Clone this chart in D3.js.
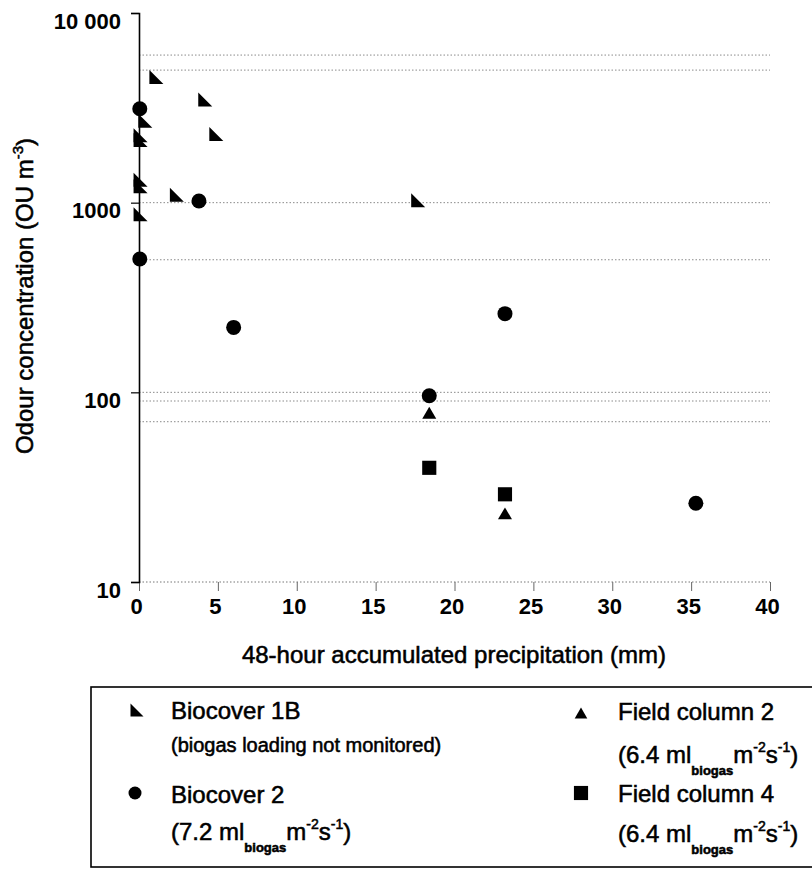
<!DOCTYPE html>
<html>
<head>
<meta charset="utf-8">
<script src="https://cdn.jsdelivr.net/npm/d3@7"></script>
<style>
  html, body { margin: 0; padding: 0; background: #fff; }
  svg { display: block; font-family: "Liberation Sans", Arial, sans-serif; }
  .heavy { stroke: #000; stroke-width: 0.55px; }
</style>
</head>
<body>
<svg id="chart" width="812" height="869"></svg>
<script>
// Odour concentration vs 48-hour accumulated precipitation
const xTicks = [0, 5, 10, 15, 20, 25, 30, 35, 40];
const yTicks = [10, 100, 1000, 10000];
const yTickLabels = ["10", "100", "1000", "10 000"];
const refLevels = [6000, 5000, 1000, 500, 100, 90, 70];

// Biocover 1B (biogas loading not monitored)
const bio1B_x = [1.1, 4.2, 0.4, 0.1, 0.1, 4.9, 0.1, 0.1, 2.4, 0.1, 17.7];
const bio1B_y = [4600, 3500, 2700, 2270, 2140, 2300, 1320, 1220, 1100, 870, 1030];
// Biocover 2
const bio2_x = [0.05, 3.8, 0.05, 6.0, 23.2, 18.4, 35.3];
const bio2_y = [3130, 1020, 505, 220, 260, 96, 26];
// Field column 2
const fc2_x = [18.4, 23.2];
const fc2_y = [78, 23];
// Field column 4
const fc4_x = [18.4, 23.2];
const fc4_y = [40, 29];

const svg = d3.select("#chart");
const x = d3.scaleLinear().domain([0, 40]).range([139, 770]);
const y = d3.scaleLog().domain([10, 10000]).range([582, 13]);

// Symbol shapes
const rightTriangle = { draw(c, size) { const h = Math.sqrt(size) / 2;
  c.moveTo(-h, -h); c.lineTo(-h, h); c.lineTo(h, h); c.closePath(); } };
const upTriangle = { draw(c, size) { const h = Math.sqrt(size) / 2;
  c.moveTo(0, -h * 0.85); c.lineTo(h, h * 0.85); c.lineTo(-h, h * 0.85); c.closePath(); } };
const square = { draw(c, size) { const h = Math.sqrt(size) / 2;
  c.rect(-h, -h, 2 * h, 2 * h); } };
const circle = { draw(c, size) { const r = Math.sqrt(size) / 2;
  c.moveTo(r, 0); c.arc(0, 0, r, 0, 2 * Math.PI); } };

// Dotted reference lines
svg.append("g").selectAll("line").data(refLevels).join("line")
  .attr("x1", x(0)).attr("x2", x(40))
  .attr("y1", d => y(d)).attr("y2", d => y(d))
  .attr("stroke", "#8a8a8a").attr("stroke-width", 1)
  .attr("stroke-dasharray", "1.5 2");

// X axis
const xAxis = svg.append("g").attr("transform", `translate(0,${y(10)})`)
  .call(d3.axisBottom(x).tickValues(xTicks).tickSize(9).tickPadding(7).tickFormat(d3.format("d")));
xAxis.select(".domain").remove();
xAxis.selectAll(".tick line").attr("stroke", "#666").attr("stroke-width", 1);
xAxis.selectAll(".tick text").attr("font-size", 22).attr("font-weight", "bold")
  .attr("fill", "#000").attr("dx", -3).attr("font-family", "Liberation Sans, Arial, sans-serif");
svg.append("line").attr("x1", x(0)).attr("x2", x(40)).attr("y1", y(10)).attr("y2", y(10))
  .attr("stroke", "#777").attr("stroke-width", 1).attr("stroke-dasharray", "1.5 2");

// Y axis
const yAxis = svg.append("g").attr("transform", `translate(${x(0)},0)`)
  .call(d3.axisLeft(y).tickValues(yTicks).tickSize(8).tickPadding(10)
    .tickFormat((d, i) => yTickLabels[i]));
yAxis.select(".domain").attr("stroke", "#000").attr("stroke-width", 1.6);
yAxis.selectAll(".tick line").attr("stroke", "#000").attr("stroke-width", 1.2);
yAxis.selectAll(".tick text").attr("font-size", 22).attr("font-weight", "bold")
  .attr("fill", "#000").attr("dy", 15).attr("font-family", "Liberation Sans, Arial, sans-serif");

// Axis titles
svg.append("text").attr("class", "heavy").attr("x", 454).attr("y", 663).attr("text-anchor", "middle")
  .attr("font-size", 24).text("48-hour accumulated precipitation (mm)");

const yt = svg.append("text").attr("class", "heavy").attr("transform", "translate(33,296) rotate(-90)")
  .attr("text-anchor", "middle").attr("font-size", 24);
yt.append("tspan").text("Odour concentration (OU m");
yt.append("tspan").attr("font-size", 15).attr("dy", -10).text("-3");
yt.append("tspan").attr("dy", 10).text(")");

// Data marks
function drawSeries(xs, ys, type, size) {
  const sym = d3.symbol().type(type).size(size);
  svg.append("g").selectAll("path").data(xs.map((v, i) => [v, ys[i]])).join("path")
    .attr("transform", d => `translate(${x(d[0])},${y(d[1])})`)
    .attr("d", sym).attr("fill", "#000");
}
drawSeries(bio1B_x, bio1B_y, rightTriangle, 196);
drawSeries(bio2_x, bio2_y, circle, 225);
drawSeries(fc2_x, fc2_y, upTriangle, 196);
drawSeries(fc4_x, fc4_y, square, 200);

// Legend
const lg = svg.append("g");
lg.append("rect").attr("x", 91).attr("y", 687).attr("width", 760).attr("height", 180)
  .attr("fill", "none").attr("stroke", "#000").attr("stroke-width", 1.6);

function legendSymbol(cx, cy, type, size) {
  lg.append("path").attr("transform", `translate(${cx},${cy})`)
    .attr("d", d3.symbol().type(type).size(size)).attr("fill", "#000");
}
legendSymbol(137, 710, rightTriangle, 169);
legendSymbol(135, 793, circle, 169);
legendSymbol(581, 713, upTriangle, 160);
legendSymbol(581, 793, square, 200);

function legendText(tx, ty, txt, size) {
  lg.append("text").attr("class", "heavy").attr("x", tx).attr("y", ty).attr("font-size", size).text(txt);
}
legendText(171, 719, "Biocover 1B", 24);
legendText(171, 752, "(biogas loading not monitored)", 20);
legendText(171, 803, "Biocover 2", 24);
legendText(618, 720, "Field column 2", 24);
legendText(618, 802, "Field column 4", 24);

function rateText(tx, ty, rate) {
  const t = lg.append("text").attr("class", "heavy").attr("x", tx).attr("y", ty).attr("font-size", 24);
  t.append("tspan").text(`(${rate} ml`);
  t.append("tspan").attr("font-size", 13).attr("font-weight", "bold").attr("dy", 12).text("biogas");
  t.append("tspan").attr("dy", -12).text("m");
  t.append("tspan").attr("font-size", 14).attr("dy", -11).text("-2");
  t.append("tspan").attr("dy", 11).text("s");
  t.append("tspan").attr("font-size", 14).attr("dy", -11).text("-1");
  t.append("tspan").attr("dy", 11).text(")");
}
rateText(171, 840, "7.2");
rateText(618, 763, "6.4");
rateText(618, 842, "6.4");
</script>
</body>
</html>
